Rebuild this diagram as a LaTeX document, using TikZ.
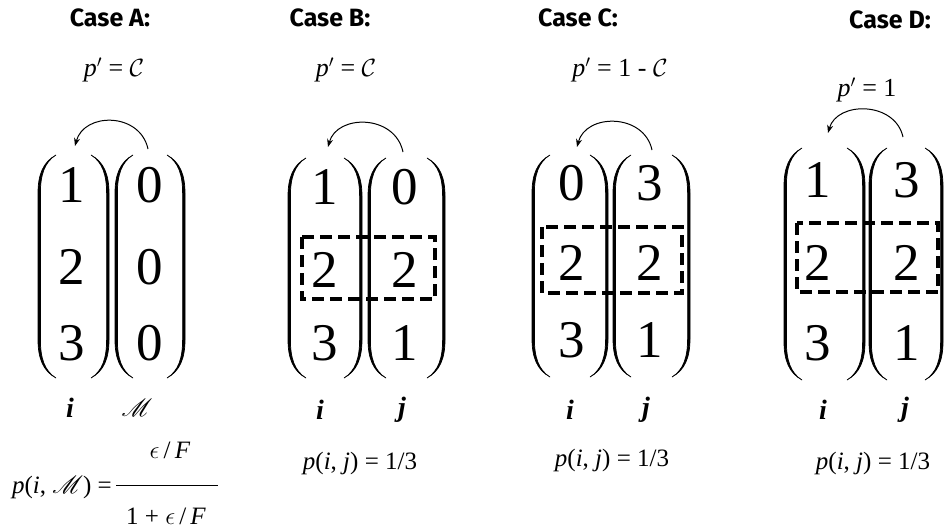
\documentclass[tikz,border=0pt]{standalone}
\usepackage{fontspec}
\setmainfont{Liberation Serif}
\newfontfamily\titlefont{Fira Sans}
\usepackage{mathrsfs}
\usetikzlibrary{arrows.meta}
\tikzset{
  paren/.style={line width=0.7pt, fill=black},
  dbox/.style={line width=3.2pt, dash pattern=on 12pt off 6pt},
  digit/.style={font=\rmfamily\fontsize{53}{53}\selectfont, inner sep=0pt},
  casetitle/.style={font=\titlefont\bfseries\fontsize{25}{25}\selectfont, inner sep=0pt},
  plabel/.style={font=\rmfamily\fontsize{26}{26}\selectfont, inner sep=0pt},
  idx/.style={font=\rmfamily\bfseries\itshape\fontsize{28}{28}\selectfont, inner sep=0pt},
  formula/.style={font=\rmfamily\fontsize{25}{25}\selectfont, inner sep=0pt},
  swaparrow/.style={line width=1pt, -{Stealth[length=8pt,width=6pt]}},
}
\newcommand\leftpar[3]{\draw[paren] (#1+18,#2) .. controls (#1+5,#2+7) and (#1,#2+20) .. (#1,#2+38) -- (#1,#3-38) .. controls (#1,#3-20) and (#1+5,#3-7) .. (#1+18,#3) .. controls (#1+6.5,#3-7) and (#1+2.4,#3-20) .. (#1+2.4,#3-38) -- (#1+2.4,#2+38) .. controls (#1+2.4,#2+20) and (#1+6.5,#2+7) .. (#1+18,#2) -- cycle;}
\newcommand\rightpar[3]{\draw[paren] (#1-18,#2) .. controls (#1-5,#2+7) and (#1,#2+20) .. (#1,#2+38) -- (#1,#3-38) .. controls (#1,#3-20) and (#1-5,#3-7) .. (#1-18,#3) .. controls (#1-6.5,#3-7) and (#1-2.4,#3-20) .. (#1-2.4,#3-38) -- (#1-2.4,#2+38) .. controls (#1-2.4,#2+20) and (#1-6.5,#2+7) .. (#1-18,#2) -- cycle;}
\begin{document}
\begin{tikzpicture}[x=1pt,y=-1pt]
\useasboundingbox (0,0) rectangle (945,530);

% ---------- Case A ----------
\node[casetitle] (tA) at (110,18) {Case A:};
\node[plabel] (pA) at (114,70) {\textit{p}$^{\prime}$ = $\mathcal{C}$};
\leftpar{38}{155}{378}\rightpar{109}{155}{378}
\leftpar{115}{155}{378}\rightpar{185}{155}{378}
\node[digit] (a11) at (72,185) {1};
\node[digit] (a21) at (72,267) {2};
\node[digit] (a31) at (72,343) {3};
\node[digit] (a12) at (150,185) {0};
\node[digit] (a22) at (150,267) {0};
\node[digit] (a32) at (150,343) {0};
\coordinate (asA) at (148,149);
\coordinate (aeA) at (75,146);
\draw[swaparrow] (asA) .. controls (140,112) and (84,112) .. (aeA);
\node[idx] (iA) at (70,408) {i};
\node[idx, font=\fontsize{27}{27}\selectfont] (mA) at (137,408) {$\mathscr{M}$};
\node[formula, anchor=east] (fA) at (112,487) {\textit{p}(\textit{i}, $\mathscr{M}$) =};
\coordinate (barL) at (116,485);
\coordinate (barR) at (218,485);
\draw[line width=0.8pt] (barL) -- (barR);
\node[formula] (numA) at (170,450) {$\epsilon$\,/\,\textit{F}};
\node[formula] (denA) at (166,516) {1 + $\epsilon$\,/\,\textit{F}};

% ---------- Case B ----------
\node[casetitle] (tB) at (330,18) {Case B:};
\node[plabel] (pB) at (346,70) {\textit{p}$^{\prime}$ = $\mathcal{C}$};
\leftpar{288}{158}{378}\rightpar{362}{158}{378}
\leftpar{368}{158}{378}\rightpar{445}{158}{378}
\node[digit] (b11) at (325,187) {1};
\node[digit] (b21) at (325,270) {2};
\node[digit] (b31) at (325,343) {3};
\node[digit] (b12) at (405,187) {0};
\node[digit] (b22) at (405,270) {2};
\node[digit] (b32) at (405,343) {1};
\coordinate (bx1) at (302,237);
\coordinate (bx2) at (435,299);
\draw[dbox] (bx1) rectangle (bx2);
\coordinate (asB) at (403,152);
\coordinate (aeB) at (328,147);
\draw[swaparrow] (asB) .. controls (395,114) and (337,114) .. (aeB);
\node[idx] (iB) at (320,410) {i};
\node[idx] (jB) at (402,410) {j};
\node[formula] (fB) at (360,463) {\textit{p}(\textit{i}, \textit{j}) = 1/3};

% ---------- Case C ----------
\node[casetitle] (tC) at (578,18) {Case C:};
\node[plabel] (pC) at (620,70) {\textit{p}$^{\prime}$ = 1 - $\mathcal{C}$};
\leftpar{532}{155}{377}\rightpar{608}{155}{377}
\leftpar{613}{155}{377}\rightpar{690}{155}{377}
\node[digit] (c11) at (572,183) {0};
\node[digit] (c21) at (572,263) {2};
\node[digit] (c31) at (572,340) {3};
\node[digit] (c12) at (650,183) {3};
\node[digit] (c22) at (650,263) {2};
\node[digit] (c32) at (650,340) {1};
\coordinate (cx1) at (542,227);
\coordinate (cx2) at (682,293);
\draw[dbox] (cx1) rectangle (cx2);
\coordinate (asC) at (652,150);
\coordinate (aeC) at (577,147);
\draw[swaparrow] (asC) .. controls (644,113) and (586,113) .. (aeC);
\node[idx] (iC) at (570,410) {i};
\node[idx] (jC) at (646,410) {j};
\node[formula] (fC) at (612,460) {\textit{p}(\textit{i}, \textit{j}) = 1/3};

% ---------- Case D ----------
\node[casetitle] (tD) at (890,20) {Case D:};
\node[plabel] (pD) at (867,90) {\textit{p}$^{\prime}$ = 1};
\leftpar{784}{148}{380}\rightpar{865}{148}{380}
\leftpar{869}{148}{380}\rightpar{943}{148}{380}
\node[digit] (d11) at (818,180) {1};
\node[digit] (d21) at (818,263) {2};
\node[digit] (d31) at (818,343) {3};
\node[digit] (d12) at (907,180) {3};
\node[digit] (d22) at (907,263) {2};
\node[digit] (d32) at (907,343) {1};
\coordinate (dx1) at (797,223);
\coordinate (dx2) at (938,292);
\draw[dbox] (dx1) rectangle (dx2);
\coordinate (asD) at (903,137);
\coordinate (aeD) at (828,133);
\draw[swaparrow] (asD) .. controls (895,101) and (837,101) .. (aeD);
\node[idx] (iD) at (823,410) {i};
\node[idx] (jD) at (905,410) {j};
\node[formula] (fD) at (873,463) {\textit{p}(\textit{i}, \textit{j}) = 1/3};
\end{tikzpicture}
\end{document}
